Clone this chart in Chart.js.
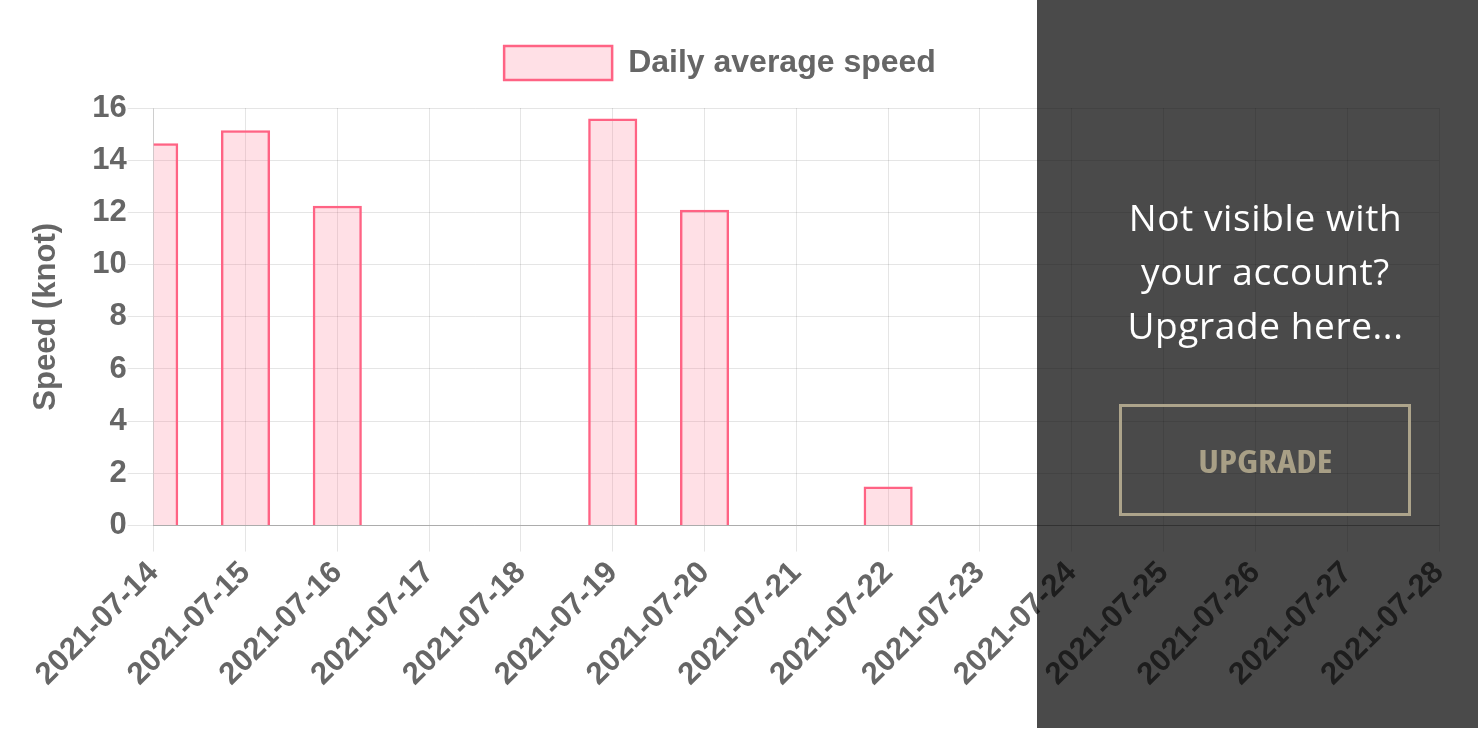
<!DOCTYPE html>
<html>
<head>
<meta charset="utf-8">
<script src="https://cdn.jsdelivr.net/npm/chart.js@4/dist/chart.umd.min.js"></script>
<style>
  html, body { margin: 0; padding: 0; background: #fff; }
  #wrap { position: relative; width: 1478px; height: 730px; }
  #overlay {
    position: absolute; left: 1037px; top: 0; width: 441px; height: 728px;
    background: rgba(0, 0, 0, 0.71);
    font-family: "Open Sans", sans-serif; color: #fff; text-align: center;
  }
  #overlay .msg {
    position: absolute; left: 16px; right: 0; top: 190px;
    font-size: 37px; line-height: 54px; letter-spacing: 0.6px;
  }
  #overlay .btn {
    position: absolute; left: 82px; top: 404px; width: 286px; height: 106px;
    border: 3px solid #ada48b;
    color: #a89f86; font-weight: 700; font-size: 32px; line-height: 108px;
    font-family: "Open Sans", sans-serif;
    font-stretch: 75%;
  }
  #overlay .btn span { display: inline-block; transform: scaleX(1.15); }
</style>
</head>
<body>
<div id="wrap">
  <canvas id="speed-chart"></canvas>
  <div id="overlay">
    <div class="msg">Not visible with<br>your account?<br>Upgrade here...</div>
    <div class="btn"><span>UPGRADE</span></div>
  </div>
</div>
<script>
// días mostrados en el eje x
const days = [
  '2021-07-14', '2021-07-15', '2021-07-16', '2021-07-17', '2021-07-18',
  '2021-07-19', '2021-07-20', '2021-07-21', '2021-07-22', '2021-07-23',
  '2021-07-24', '2021-07-25', '2021-07-26', '2021-07-27', '2021-07-28'
];
// velocidad media diaria (nudos), null = sin datos
const avgSpeed = [14.65, 15.15, 12.25, null, null, 15.6, 12.1, null, 1.5, null, null, null, null, null, null];
const speedMin = 0;
const speedMax = 16;
const speedStep = 2;

const pink = 'rgb(255, 99, 132)';
const pinkFill = 'rgba(255, 99, 132, 0.2)';
const font = { family: '"Liberation Sans", Arial, sans-serif', size: 31, weight: 'bold' };

// deja más espacio debajo de la leyenda
const legendSpacer = {
  id: 'legendSpacer',
  beforeInit(chart) {
    const fit = chart.legend.fit;
    chart.legend.fit = function () {
      fit.bind(chart.legend)();
      this.height += 18;
    };
  }
};

const ctx = document.getElementById('speed-chart').getContext('2d');
const chart = new Chart(ctx, {
  type: 'bar',
  data: {
    labels: days,
    datasets: [{
      label: 'Daily average speed',
      data: avgSpeed,
      backgroundColor: pinkFill,
      borderColor: pink,
      borderWidth: 2.5,
      categoryPercentage: 1,
      barPercentage: 0.535,
      clip: 0
    }]
  },
  options: {
    responsive: true,
    maintainAspectRatio: false,
    animation: false,
    layout: { padding: { left: 1, right: 39, top: 21, bottom: 34 } },
    plugins: {
      legend: {
        labels: { boxWidth: 108, boxHeight: 34, padding: 25, color: '#666', font: { ...font, size: 32 } }
      },
      tooltip: { enabled: false }
    },
    scales: {
      x: {
        offset: false,
        grid: { offset: false, color: 'rgba(0,0,0,0.1)', tickLength: 26 },
        border: { color: 'rgba(0,0,0,0.25)' },
        ticks: { color: '#666', font: font, minRotation: 45, maxRotation: 45, autoSkip: false }
      },
      y: {
        min: speedMin,
        max: speedMax,
        grid: { color: 'rgba(0,0,0,0.1)', tickLength: 26 },
        border: { color: 'rgba(0,0,0,0.1)' },
        ticks: { stepSize: speedStep, color: '#666', font: font, padding: 1 },
        title: { display: true, text: 'Speed (knot)', color: '#666', font: font, padding: { top: 27, bottom: 26 } }
      }
    }
  },
  plugins: [legendSpacer]
});
</script>
</body>
</html>
